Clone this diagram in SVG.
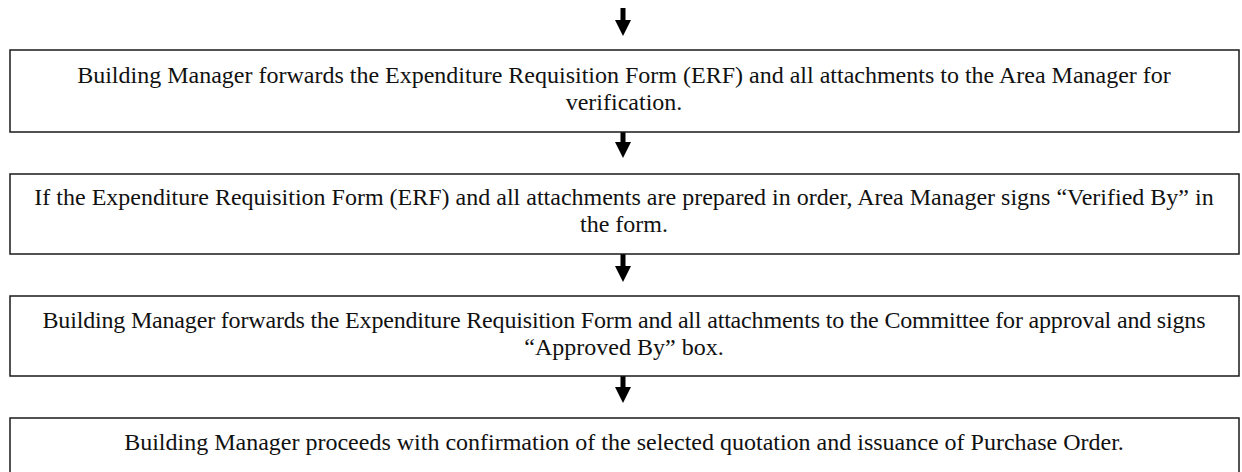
<svg xmlns="http://www.w3.org/2000/svg" width="1242" height="472" viewBox="0 0 1242 472">
  <style>
    .box { fill: #ffffff; stroke: #1a1a1a; stroke-width: 1.5; }
    .label { font-family: "Liberation Serif", "Times New Roman", serif; font-size: 24px; fill: #111111; text-anchor: middle; }
    .arrow { fill: #000000; }
  </style>
  <defs>
    <!-- down arrow, tip at origin -->
    <path id="down-arrow" d="M -2.5,-28 H 2.5 V -16 H 8 L 0,0 L -8,-16 H -2.5 Z"/>
  </defs>
  <rect width="1242" height="472" fill="#ffffff"/>

  <g id="connectors" class="arrow">
    <use href="#down-arrow" x="623" y="36"/>
    <use href="#down-arrow" x="623" y="158"/>
    <use href="#down-arrow" x="623" y="282"/>
    <use href="#down-arrow" x="623" y="403"/>
  </g>

  <g id="step-forward-erf">
    <rect class="box" x="10" y="50" width="1229" height="82"/>
    <text class="label" x="624" y="83">Building Manager forwards the Expenditure Requisition Form (ERF) and all attachments to the Area Manager for</text>
    <text class="label" x="624" y="110">verification.</text>
  </g>

  <g id="step-verify">
    <rect class="box" x="10" y="174" width="1229" height="80"/>
    <text class="label" x="624" y="205">If the Expenditure Requisition Form (ERF) and all attachments are prepared in order, Area Manager signs “Verified By” in</text>
    <text class="label" x="624" y="232">the form.</text>
  </g>

  <g id="step-approve">
    <rect class="box" x="10" y="296" width="1229" height="80"/>
    <text class="label" x="624" y="328" textLength="1163" lengthAdjust="spacing">Building Manager forwards the Expenditure Requisition Form and all attachments to the Committee for approval and signs</text>
    <text class="label" x="624" y="355">“Approved By” box.</text>
  </g>

  <g id="step-purchase-order">
    <rect class="box" x="10" y="418" width="1229" height="70"/>
    <text class="label" x="624" y="450">Building Manager proceeds with confirmation of the selected quotation and issuance of Purchase Order.</text>
  </g>
</svg>
